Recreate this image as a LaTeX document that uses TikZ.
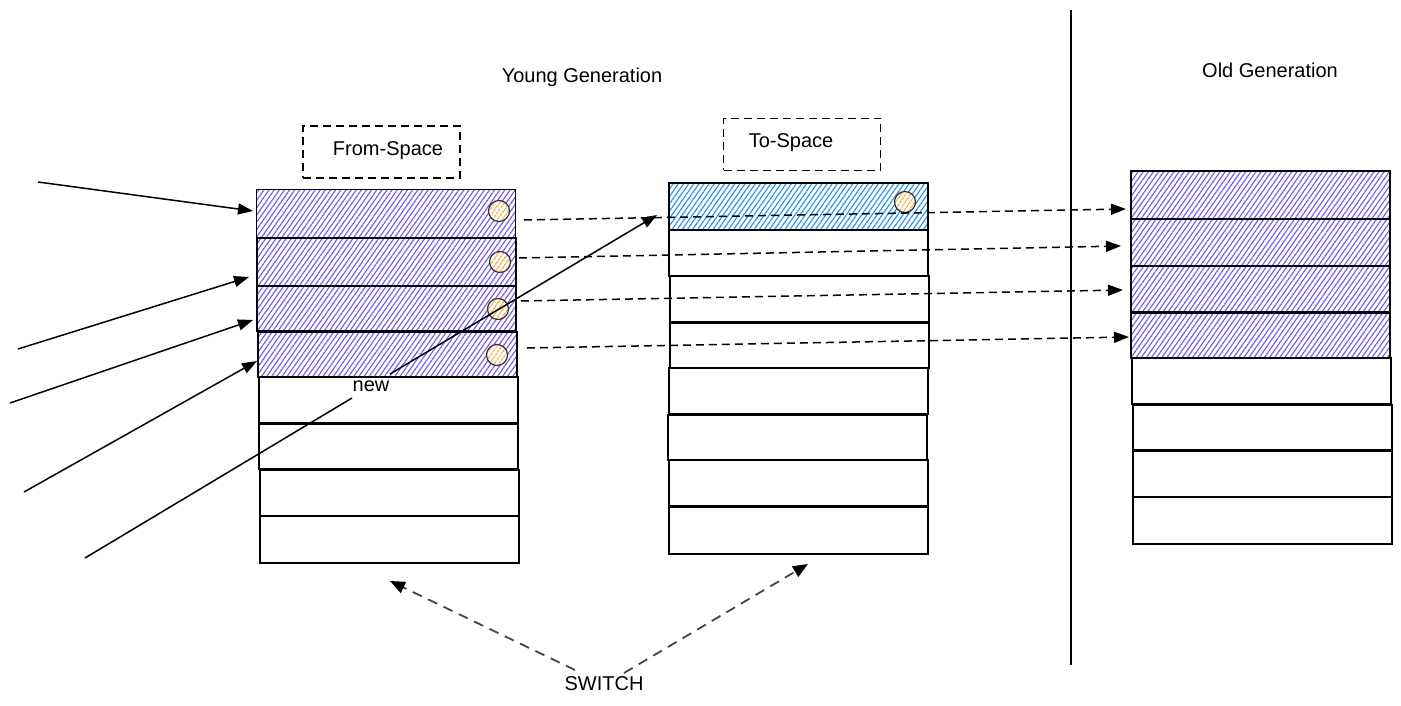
\documentclass[tikz,border=0pt]{standalone}
\usepackage{fontspec}
\setmainfont{Liberation Sans}
\usetikzlibrary{arrows.meta,patterns.meta}
\definecolor{purp}{RGB}{115,92,232}
\definecolor{bluh}{RGB}{40,145,235}
\definecolor{orh}{RGB}{240,150,20}
\definecolor{swgray}{RGB}{68,68,68}
\begin{document}
\begin{tikzpicture}[x=1pt,y=-1pt,
  cell/.style={draw=black, line width=1.6pt, minimum width=259pt, inner sep=0pt, anchor=north west},
  purplecell/.style={cell, pattern={Lines[angle=55,distance=4.2pt,line width=1.15pt]}, pattern color=purp},
  bluecell/.style={cell, pattern={Lines[angle=55,distance=4.2pt,line width=1.15pt]}, pattern color=bluh},
  obj/.style={circle, draw=black!80, line width=1.2pt, minimum size=21pt, inner sep=0pt,
    preaction={fill=white}, pattern={Lines[angle=55,distance=4pt,line width=1.3pt]}, pattern color=orh},
  label/.style={font=\fontsize{20}{24}\selectfont, inner sep=0pt},
  hand/.style={font=\fontsize{20}{24}\selectfont, inner sep=0pt},
  spacebox/.style={draw=black, line width=1.7pt, dash pattern=on 8pt off 5pt, minimum width=157pt, minimum height=52pt, inner sep=0pt},
  refarrow/.style={draw=black, line width=1.5pt, -{Triangle[length=15pt,width=11pt]}},
  copyarrow/.style={draw=black, line width=1.5pt, dash pattern=on 8pt off 5pt, -{Triangle[length=15pt,width=11pt]}},
  switcharrow/.style={draw=swgray, line width=1.8pt, dash pattern=on 10pt off 7pt, -{Triangle[length=15pt,width=12pt,color=black]}}
]
\useasboundingbox (0,0) rectangle (1401,706);

% labels
\node[label] (yg) at (582,77) {Young Generation};
\node[label] (og) at (1270,70) {Old Generation};

% divider
\coordinate (dv1) at (1071,10);
\coordinate (dv2) at (1071,665);
\draw[line width=1.5pt] (dv1) -- (dv2);

% space boxes
\node[spacebox] (fsb) at (381.5,152) {};
\node[hand] (fst) at (388,151) {From-Space};
\node[spacebox] (tsb) at (802,144.5) {};
\node[hand] (tst) at (791,143) {To-Space};

% From-Space column
\node[purplecell, minimum height=48pt] (f1) at (256,189) {};
\node[purplecell, minimum height=48pt] (f2) at (256,237) {};
\node[purplecell, minimum height=45pt] (f3) at (256,285) {};
\node[purplecell, minimum height=45pt] (f4) at (257,331) {};
\node[cell, minimum height=46pt] (f5) at (258,376) {};
\node[cell, minimum height=45pt] (f6) at (258,423) {};
\node[cell, minimum height=46pt] (f7) at (259,469) {};
\node[cell, minimum height=47pt] (f8) at (259,515) {};

\node[obj] (c1) at (499,211) {};
\node[obj] (c2) at (500,262) {};
\node[obj] (c3) at (498,309) {};
\node[obj] (c4) at (497,355) {};

% To-Space column
\node[bluecell, minimum height=47pt] (t1) at (668,182) {};
\node[cell, minimum height=46pt] (t2) at (668,229) {};
\node[cell, minimum height=46pt] (t3) at (669,275) {};
\node[cell, minimum height=45pt] (t4) at (669,322) {};
\node[cell, minimum height=46pt] (t5) at (668,367) {};
\node[cell, minimum height=45pt] (t6) at (667,414) {};
\node[cell, minimum height=46pt] (t7) at (668,459) {};
\node[cell, minimum height=47pt] (t8) at (668,506) {};
\node[obj] (c5) at (905,202) {};

% Old generation column
\node[purplecell, minimum height=48pt] (o1) at (1130,170) {};
\node[purplecell, minimum height=47pt] (o2) at (1130,218) {};
\node[purplecell, minimum height=46pt] (o3) at (1130,265) {};
\node[purplecell, minimum height=45pt] (o4) at (1130,312) {};
\node[cell, minimum height=46pt] (o5) at (1131,357) {};
\node[cell, minimum height=45pt] (o6) at (1132,404) {};
\node[cell, minimum height=46pt] (o7) at (1132,450) {};
\node[cell, minimum height=47pt] (o8) at (1132,496) {};

% references from outside
\coordinate (r1) at (38,182);
\coordinate (r2) at (18,349);
\coordinate (r3) at (10,403);
\coordinate (r4) at (24,492);
\coordinate (e1) at (253,211);
\coordinate (e2) at (249,277);
\coordinate (e3) at (253,320);
\coordinate (e4) at (257,361);
\draw[refarrow] (r1) -- (e1);
\draw[refarrow] (r2) -- (e2);
\draw[refarrow] (r3) -- (e3);
\draw[refarrow] (r4) -- (e4);

% new allocation
\coordinate (n0) at (85,558);
\coordinate (n1) at (352,398);
\coordinate (n2) at (390,374);
\coordinate (n3) at (657,215);
\node[label] (newl) at (371,386) {new};
\draw[line width=1.5pt] (n0) -- (n1);
\draw[refarrow] (n2) -- (n3);

% copies
\coordinate (d1s) at (524,220);
\coordinate (d2s) at (519,258);
\coordinate (d3s) at (521,301);
\coordinate (d4s) at (527,348);
\coordinate (d1e) at (1126,209);
\coordinate (d2e) at (1121,246);
\coordinate (d3e) at (1123,290);
\coordinate (d4e) at (1129,337);
\draw[copyarrow] (d1s) -- (d1e);
\draw[copyarrow] (d2s) -- (d2e);
\draw[copyarrow] (d3s) -- (d3e);
\draw[copyarrow] (d4s) -- (d4e);

% switch
\node[label] (sw) at (604,684) {SWITCH};
\coordinate (s1) at (575,670);
\coordinate (s2) at (624,673);
\coordinate (s1e) at (390,581);
\coordinate (s2e) at (808,564);
\draw[switcharrow] (s1) -- (s1e);
\draw[switcharrow] (s2) -- (s2e);
\end{tikzpicture}
\end{document}
